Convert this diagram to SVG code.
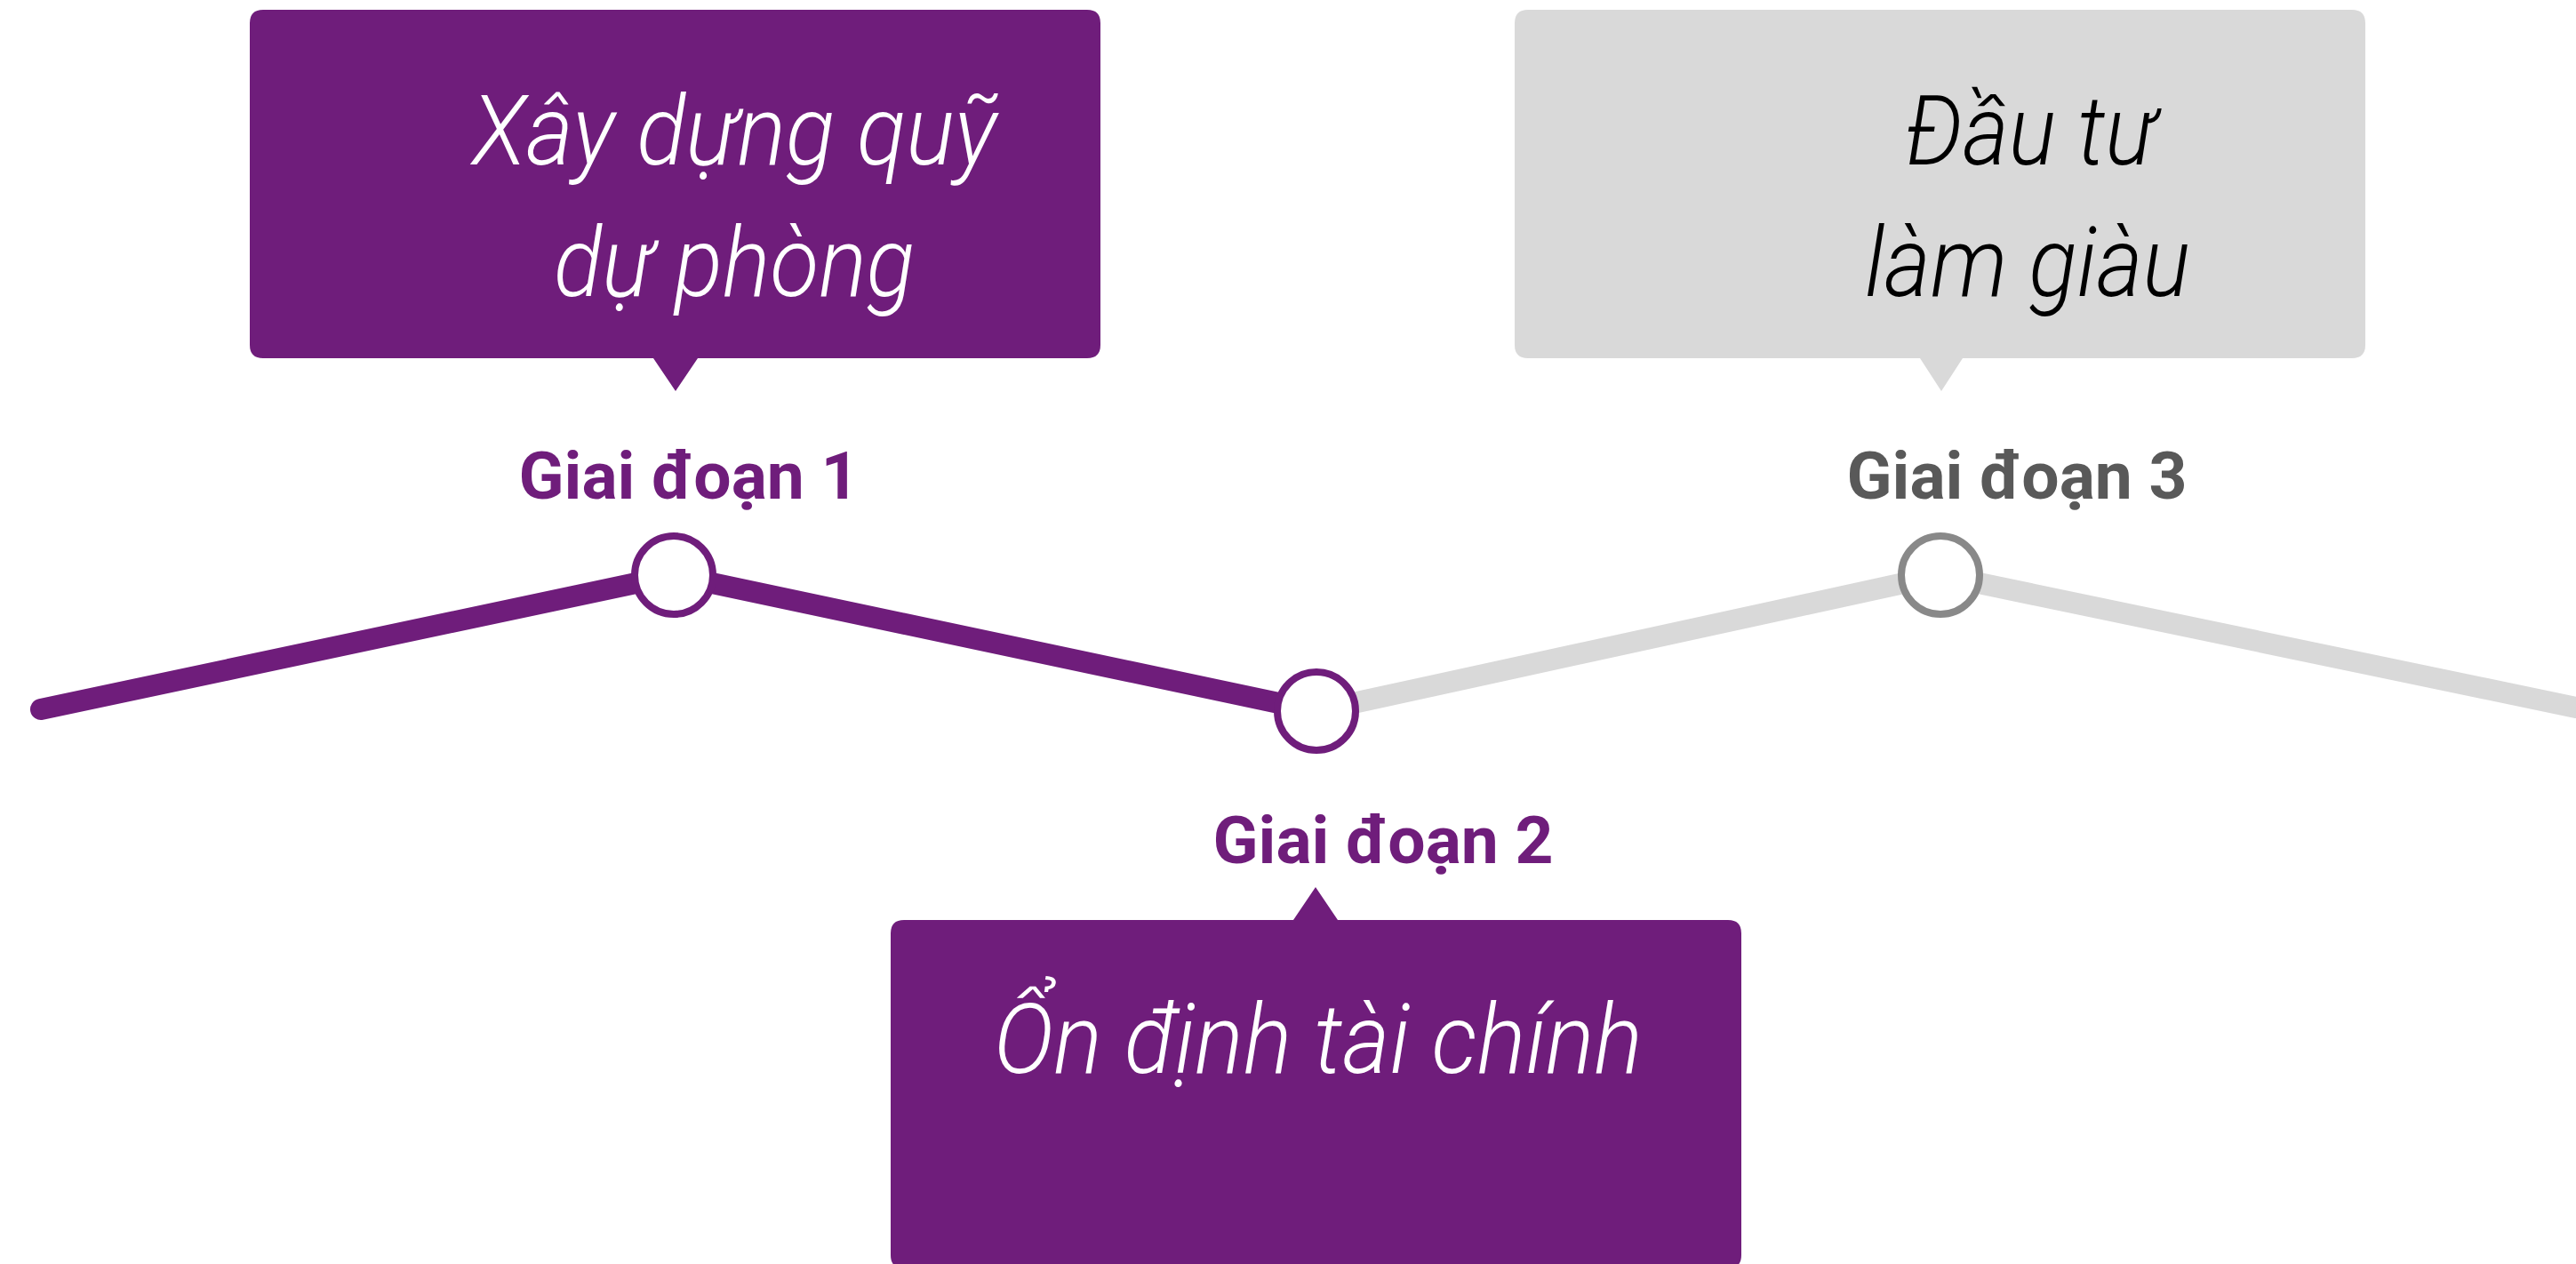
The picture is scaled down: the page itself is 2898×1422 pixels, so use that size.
<svg xmlns="http://www.w3.org/2000/svg" width="2898" height="1422" viewBox="0 0 2898 1422">
<style>
.box-p{fill:#6F1D7B}
.box-g{fill:#D9D9D9}
.big{font-family:Roboto,"Liberation Sans",sans-serif;font-style:italic;font-weight:300;font-size:110px;text-anchor:middle}
.lbl{font-family:Roboto,"Liberation Sans",sans-serif;font-weight:700;font-size:75px;text-anchor:middle}
.node-p{fill:#FFFFFF;stroke:#6F1D7B;stroke-width:8}
.node-g{fill:#FFFFFF;stroke:#898989;stroke-width:8}
</style>
<rect width="2898" height="1422" fill="#FFFFFF"/>
<g id="connectors" fill="none" stroke-linecap="round" stroke-linejoin="round" stroke-width="24">
<polyline points="2898,796 2183,647 1481,800" stroke="#D9D9D9"/>
<polyline points="46,798 758,647 1481,800" stroke="#6F1D7B"/>
</g>
<g id="callout1">
<path class="box-p" d="M296,11 H1223 Q1238,11 1238,26 V388 Q1238,403 1223,403 H785 L760,440 L735,403 H296 Q281,403 281,388 V26 Q281,11 296,11 Z"/>
<text class="big" fill="#FFFFFF" x="826" y="185" textLength="590" lengthAdjust="spacingAndGlyphs">Xây dựng quỹ</text>
<text class="big" fill="#FFFFFF" x="826" y="333" textLength="406" lengthAdjust="spacingAndGlyphs">dự phòng</text>
</g>
<g id="callout3">
<path class="box-g" d="M1719,11 H2646 Q2661,11 2661,26 V388 Q2661,403 2646,403 H2208 L2184,440 L2160,403 H1719 Q1704,403 1704,388 V26 Q1704,11 1719,11 Z"/>
<text class="big" fill="#000000" x="2284" y="185" textLength="282" lengthAdjust="spacingAndGlyphs">Đầu tư</text>
<text class="big" fill="#000000" x="2281" y="333" textLength="366" lengthAdjust="spacingAndGlyphs">làm giàu</text>
</g>
<g id="callout2">
<path class="box-p" d="M1017,1035 H1455 L1480,998 L1505,1035 H1944 Q1959,1035 1959,1050 V1412 Q1959,1427 1944,1427 H1017 Q1002,1427 1002,1412 V1050 Q1002,1035 1017,1035 Z"/>
<text class="big" fill="#FFFFFF" x="1483" y="1207" textLength="730" lengthAdjust="spacingAndGlyphs">Ổn định tài chính</text>
</g>
<g id="node1">
<circle class="node-p" cx="758" cy="647" r="44"/>
<text class="lbl" fill="#6F1D7B" x="775" y="561">Giai đoạn 1</text>
</g>
<g id="node2">
<circle class="node-p" cx="1481" cy="800" r="44"/>
<text class="lbl" fill="#6F1D7B" x="1556" y="971">Giai đoạn 2</text>
</g>
<g id="node3">
<circle class="node-g" cx="2183" cy="647" r="44"/>
<text class="lbl" fill="#595959" x="2269" y="561">Giai đoạn 3</text>
</g>
</svg>
